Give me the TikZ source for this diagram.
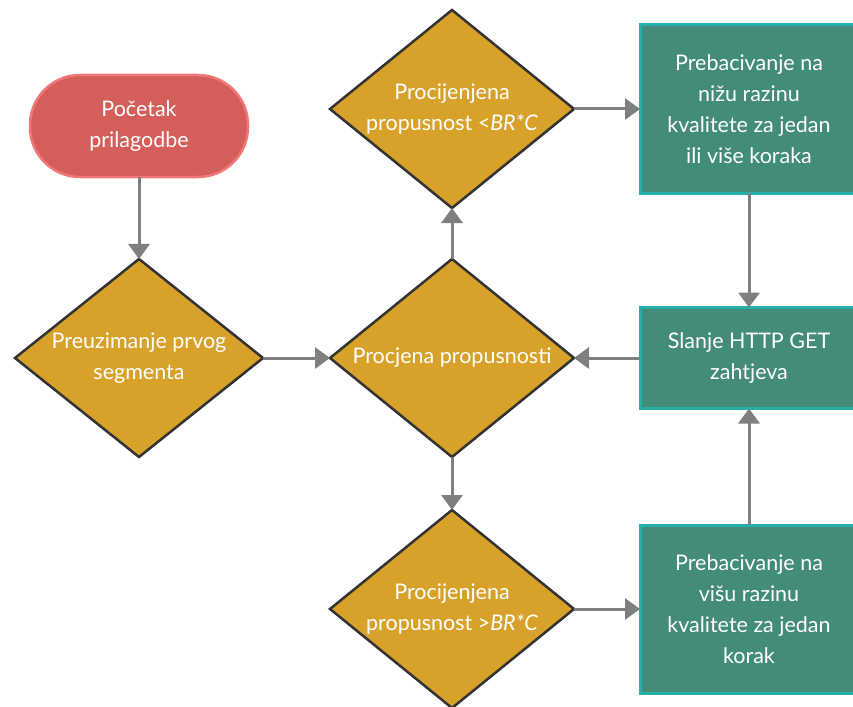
\documentclass[tikz,border=0pt]{standalone}
\usepackage{fontspec}
\setmainfont{Lato}
\usepackage{xcolor}
\definecolor{colorStart}{HTML}{D35E5A}
\definecolor{colorStartBorder}{HTML}{F27878}
\definecolor{colorDecision}{HTML}{D8A12A}
\definecolor{colorDecisionBorder}{HTML}{333333}
\definecolor{colorAction}{HTML}{438C7A}
\definecolor{colorActionBorder}{HTML}{24AFAA}
\definecolor{colorArrow}{HTML}{7F7F7F}
\usetikzlibrary{arrows.meta, shapes.geometric, positioning}
\tikzset{
  every node/.style={text=white, align=center, outer sep=0pt, font=\fontsize{21.5pt}{31pt}\selectfont},
  startnode/.style={draw=colorStartBorder, fill=colorStart, line width=2.5pt, rounded corners=50pt, minimum width=218pt, minimum height=102pt},
  decision/.style={diamond, draw=colorDecisionBorder, fill=colorDecision, line width=2.5pt, aspect=1.25, inner sep=-12pt, minimum width=244pt, minimum height=198pt},
  action/.style={draw=colorActionBorder, fill=colorAction, line width=3pt, minimum width=218pt}
}

\begin{document}
\begin{tikzpicture}[>={Triangle[length=15pt, width=21pt]}, line width=3pt, node distance=66pt]
\useasboundingbox (0pt,0pt) rectangle (853pt,-706pt);
\node[startnode] (start) at (139pt,-126pt) {Početak\\prilagodbe};
\node[decision, below=82pt of start, minimum width=248pt] (fetch) {Preuzimanje prvog\\segmenta};
\node[decision, right=67pt of fetch] (estimate) {Procjena propusnosti};
\node[decision, above=51pt of estimate] (lower) {Procijenjena\\propusnost <\textit{BR*C}};
\node[decision, below=53pt of estimate] (higher) {Procijenjena\\propusnost >\textit{BR*C}};
\node[action, right=of lower, minimum height=168pt] (down) {Prebacivanje na\\nižu razinu\\kvalitete za jedan\\ili više koraka};
\node[action, right=of estimate, minimum height=101pt] (request) {Slanje HTTP GET\\zahtjeva};
\node[action, right=of higher, minimum height=168pt] (up) {Prebacivanje na\\višu razinu\\kvalitete za jedan\\korak};
\draw [->, colorArrow] (start) -- (fetch);
\draw [->, colorArrow] (fetch) -- (estimate);
\draw [->, colorArrow] (estimate) -- (lower);
\draw [->, colorArrow] (estimate) -- (higher);
\draw [->, colorArrow] (lower) -- (down);
\draw [->, colorArrow] (higher) -- (up);
\draw [->, colorArrow] (down) -- (request);
\draw [->, colorArrow] (up) -- (request);
\draw [->, colorArrow] (request) -- (estimate);
\end{tikzpicture}
\end{document}
